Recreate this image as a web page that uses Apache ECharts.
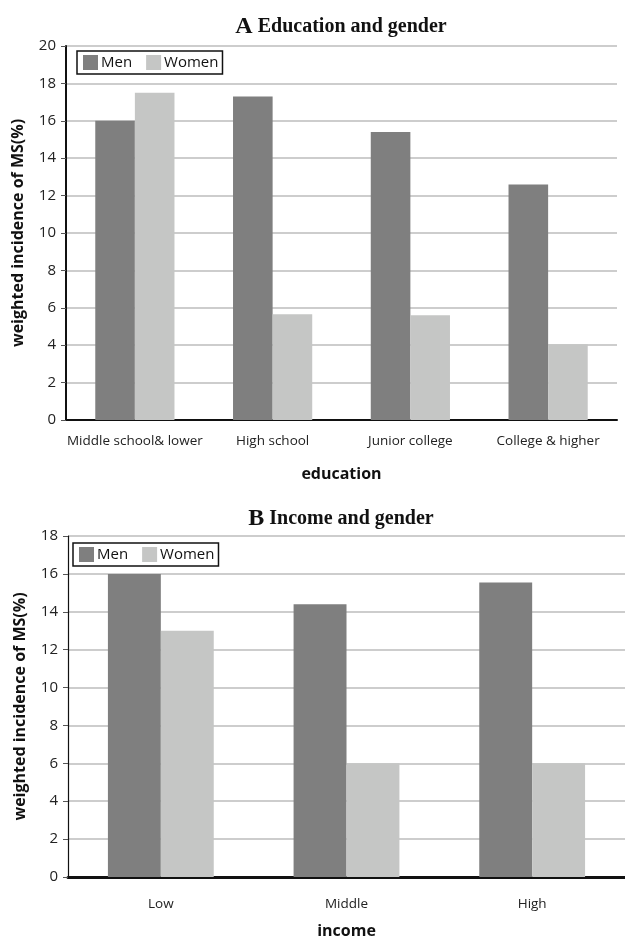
<!DOCTYPE html>
<html>
<head>
<meta charset="utf-8">
<script src="https://cdn.jsdelivr.net/npm/echarts@6/dist/echarts.min.js"></script>
<style>
  html, body { margin: 0; padding: 0; background: #fff; }
  #chart { width: 625px; height: 940px; }
</style>
</head>
<body>
<div id="chart"></div>
<script>
// Panel A: weighted incidence of MS by education level
const eduCategories = ['Middle school& lower', 'High school', 'Junior college', 'College & higher'];
const eduMen = [16.0, 17.3, 15.4, 12.6];
const eduWomen = [17.5, 5.65, 5.6, 4.05];

// Panel B: weighted incidence of MS by income level
const incCategories = ['Low', 'Middle', 'High'];
const incMen = [16.0, 14.4, 15.55];
const incWomen = [13.0, 6.0, 6.0];

const seriesNames = ['Men', 'Women'];
const menColor = '#7f7f7f';
const womenColor = '#c5c6c5';
const sans = '"Open Sans", "Liberation Sans", sans-serif';
const serif = '"Liberation Serif", "DejaVu Serif", serif';

const chart = echarts.init(document.getElementById('chart'), null, { renderer: 'canvas' });

function panelTitle(letter, text, top) {
  return {
    text: '{l|' + letter + '} {t|' + text + '}',
    left: 336, top: top, textAlign: 'center',
    textStyle: {
      rich: {
        l: { fontFamily: serif, fontSize: 24, fontWeight: 'bold', color: '#111' },
        t: { fontFamily: serif, fontSize: 20, color: '#111' }
      }
    }
  };
}

function legendAt(left, top) {
  return {
    data: seriesNames,
    left: left, top: top,
    orient: 'horizontal',
    itemWidth: 15, itemHeight: 15, itemGap: 14,
    padding: [4, 4, 4, 6],
    borderColor: '#111', borderWidth: 1.5,
    icon: 'rect',
    textStyle: { fontFamily: sans, fontSize: 15, color: '#111', padding: [0, 0, 0, -2] }
  };
}

function valueAxis(gridIndex, max, lineWidth) {
  return {
    type: 'value', gridIndex: gridIndex, min: 0, max: max, interval: 2,
    name: 'weighted incidence of MS(%)',
    nameLocation: 'middle', nameGap: 40,
    nameTextStyle: { fontFamily: sans, fontSize: 16, fontWeight: 'bold', color: '#111' },
    axisLine: { show: true, lineStyle: { color: '#111', width: lineWidth } },
    axisTick: { show: true, length: 5, lineStyle: { color: '#555' } },
    axisLabel: { fontFamily: sans, fontSize: 15, color: '#222', margin: 10 },
    splitLine: { show: true, lineStyle: { color: '#bdbdbd', width: 1.5 } }
  };
}

function categoryAxis(gridIndex, data, name, axisWidth, labelMargin) {
  return {
    type: 'category', gridIndex: gridIndex, data: data,
    name: name, nameLocation: 'middle', nameGap: 46,
    nameTextStyle: { fontFamily: sans, fontSize: 16, fontWeight: 'bold', color: '#111' },
    axisLine: { show: true, lineStyle: { color: '#111', width: axisWidth } },
    axisTick: { show: false },
    axisLabel: { fontFamily: sans, fontSize: 13.5, color: '#222', margin: labelMargin, interval: 0 },
    splitLine: { show: false }
  };
}

function barSeries(name, data, idx, color, catGap) {
  return {
    name: name, type: 'bar', data: data,
    xAxisIndex: idx, yAxisIndex: idx,
    barGap: '0%', barCategoryGap: catGap,
    itemStyle: { color: color },
    emphasis: { disabled: true }
  };
}

chart.setOption({
  animation: false,
  backgroundColor: '#fff',
  title: [
    panelTitle('A', 'Education and gender', 10),
    panelTitle('B', 'Income and gender', 502)
  ],
  legend: [legendAt(77, 51), legendAt(73, 543)],
  grid: [
    { left: 66, right: 8, top: 46, bottom: 520, containLabel: false },
    { left: 68, right: 0, top: 536, bottom: 47, containLabel: false }
  ],
  xAxis: [
    categoryAxis(0, eduCategories, 'education', 2, 14),
    categoryAxis(1, incCategories, 'income', 3, 20)
  ],
  yAxis: [valueAxis(0, 20, 2), valueAxis(1, 18, 1.2)],
  series: [
    barSeries('Men', eduMen, 0, menColor, '42.5%'),
    barSeries('Women', eduWomen, 0, womenColor, '42.5%'),
    barSeries('Men', incMen, 1, menColor, '43%'),
    barSeries('Women', incWomen, 1, womenColor, '43%')
  ]
});
</script>
</body>
</html>
